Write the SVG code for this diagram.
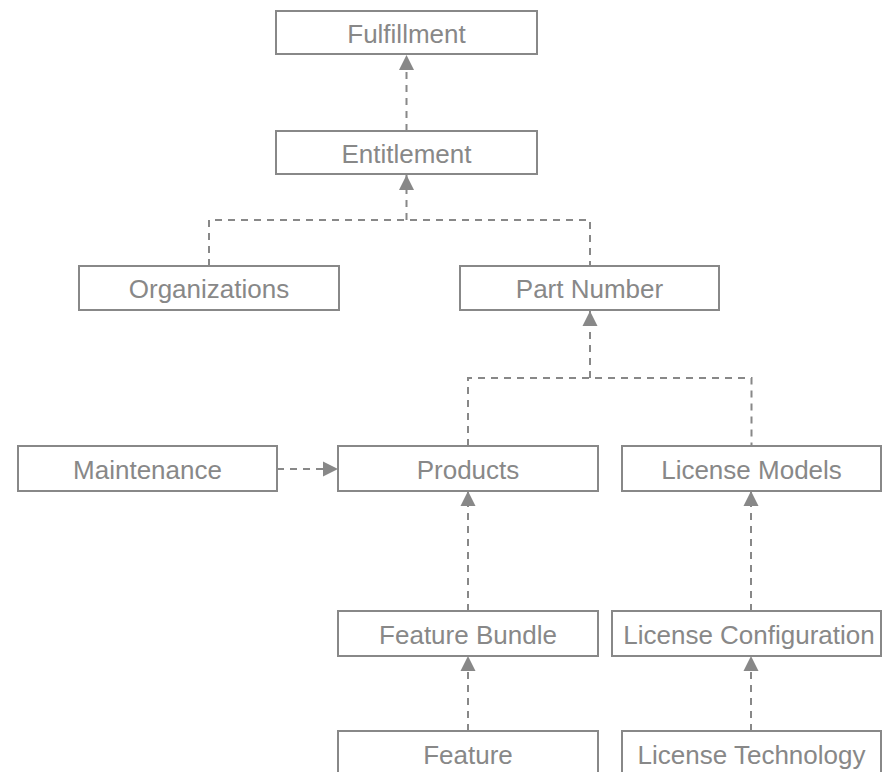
<svg xmlns="http://www.w3.org/2000/svg" width="883" height="772" viewBox="0 0 883 772">
<style>
.box{fill:#fff;stroke:#888;stroke-width:2}
.lbl{font-family:"Liberation Sans",Arial,sans-serif;font-size:26px;fill:#888;text-anchor:middle}
.conn{fill:none;stroke:#888;stroke-width:2;stroke-dasharray:7,6}
</style>
<defs>
<marker id="arr" markerUnits="userSpaceOnUse" markerWidth="16" markerHeight="16" refX="15" refY="8" orient="auto">
<path d="M0,0.5 L15,8 L0,15.5 z" fill="#888"/>
</marker>
</defs>
<rect width="883" height="772" fill="#fff"/>
<g id="connectors">
<path class="conn" d="M406.5,131 V55" marker-end="url(#arr)"/>
<path class="conn" d="M209,266 V220 H590 V266"/>
<path class="conn" d="M406.5,220 V175" marker-end="url(#arr)"/>
<path class="conn" d="M468,446 V378 H751.5 V446"/>
<path class="conn" d="M590,378 V311" marker-end="url(#arr)"/>
<path class="conn" d="M277,469 H338" marker-end="url(#arr)"/>
<path class="conn" d="M468,611 V491" marker-end="url(#arr)"/>
<path class="conn" d="M751,611 V491" marker-end="url(#arr)"/>
<path class="conn" d="M468,731 V656" marker-end="url(#arr)"/>
<path class="conn" d="M751,731 V656" marker-end="url(#arr)"/>
</g>
<g id="fulfillment"><rect class="box" x="276" y="11" width="261" height="43"/><text class="lbl" x="406.5" y="43">Fulfillment</text></g>
<g id="entitlement"><rect class="box" x="276" y="131" width="261" height="43"/><text class="lbl" x="406.5" y="163">Entitlement</text></g>
<g id="organizations"><rect class="box" x="79" y="266" width="260" height="44"/><text class="lbl" x="209" y="298">Organizations</text></g>
<g id="part-number"><rect class="box" x="460" y="266" width="259" height="44"/><text class="lbl" x="589.5" y="298">Part Number</text></g>
<g id="maintenance"><rect class="box" x="18" y="446" width="259" height="45"/><text class="lbl" x="147.5" y="479">Maintenance</text></g>
<g id="products"><rect class="box" x="338" y="446" width="260" height="45"/><text class="lbl" x="468" y="479">Products</text></g>
<g id="license-models"><rect class="box" x="622" y="446" width="259" height="45"/><text class="lbl" x="751.5" y="479">License Models</text></g>
<g id="feature-bundle"><rect class="box" x="338" y="611" width="260" height="45"/><text class="lbl" x="468" y="644">Feature Bundle</text></g>
<g id="license-configuration"><rect class="box" x="612" y="611" width="269" height="45"/><text class="lbl" x="749" y="644">License Configuration</text></g>
<g id="feature"><rect class="box" x="338" y="731" width="260" height="45"/><text class="lbl" x="468" y="764">Feature</text></g>
<g id="license-technology"><rect class="box" x="622" y="731" width="259" height="45"/><text class="lbl" x="751.5" y="764">License Technology</text></g>
</svg>
